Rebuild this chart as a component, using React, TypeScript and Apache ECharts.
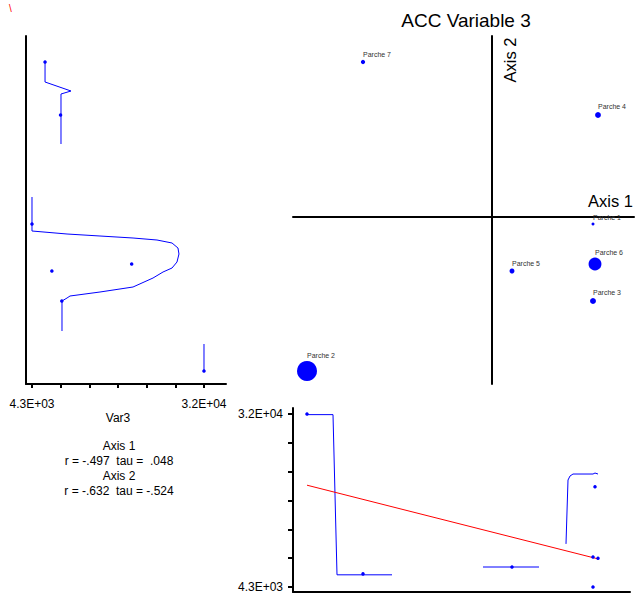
import React, { useEffect, useRef } from 'react';
import * as echarts from 'echarts';

// ---- data ----
const parcheNames = ['Parche 1', 'Parche 2', 'Parche 3', 'Parche 4', 'Parche 5', 'Parche 6', 'Parche 7'];
const axis1Scores = [1.01, -1.85, 1.01, 1.06, 0.2, 1.03, -1.29];
const axis2Scores = [-0.07, -1.54, -0.84, 1.02, -0.54, -0.47, 1.55];
const var3Values = [4300, 32000, 9100, 8900, 7500, 20350, 6400];

const var3Min = 4300;
const var3Max = 32000;
const var3TickValues = [4300, 8917, 13533, 18150, 22767, 27383, 32000];
const var3TickLabels = ['4.3E+03', '3.2E+04'];

// smoother of Var3 (x) against Axis 2 (y), in pieces
const leftSmoothA = [[6400, 1.55], [6400, 1.35], [10580, 1.26], [8970, 1.23], [8970, 0.73]];
const leftSmoothB = [
  [4300, 0.2], [4300, -0.14], [9940, -0.17], [15250, -0.19], [20570, -0.21], [24430, -0.23],
  [26850, -0.26], [27810, -0.31], [27970, -0.37], [27650, -0.45], [26850, -0.51], [25400, -0.55],
  [23790, -0.61], [20570, -0.7], [15250, -0.75], [10420, -0.79], [9940, -0.81], [9130, -0.84], [9130, -1.14],
];
const leftSmoothC = [[32000, -1.27], [32000, -1.54]];

// smoother of Axis 1 (x) against Var3 (y), in pieces
const bottomSmoothA = [[-1.85, 31900], [-1.59, 31900], [-1.55, 6250], [-1.0, 6250]];
const bottomSmoothB = [[-0.09, 7500], [0.47, 7500]];
const bottomSmoothC = [[0.74, 11200], [0.76, 21430], [0.78, 22070], [0.81, 22390], [1.01, 22390], [1.03, 22550], [1.06, 22390]];
const regressionLine = [[-1.85, 20600], [1.06, 8800]];

const stats = ['Axis 1', 'r = -.497  tau =  .048', 'Axis 2', 'r = -.632  tau = -.524'];

const FONT = '"Liberation Sans", Arial, Helvetica, sans-serif';
const BLUE = '#0000ff';

function buildOption() {
  const sizeOf = (v: number) => 3 + ((v - var3Min) / (var3Max - var3Min)) * 17;
  const scatterMain = parcheNames.map((n, i) => ({ name: n, value: [axis1Scores[i], axis2Scores[i], var3Values[i]] }));
  const leftPoints = parcheNames.map((n, i) => [var3Values[i], axis2Scores[i]]);
  const bottomPoints = parcheNames.map((n, i) => [axis1Scores[i], var3Values[i]]);
  const varLabel = (v: number) => (v === var3Min ? var3TickLabels[0] : var3TickLabels[1]);

  const hiddenAxisBits = {
    splitLine: { show: false },
    axisTick: { show: false },
    axisLabel: { show: false },
  };
  const blackLine = { lineStyle: { color: '#000', width: 2 } };

  const line = (data: number[][], xi: number, yi: number, color = BLUE) => ({
    type: 'line',
    xAxisIndex: xi,
    yAxisIndex: yi,
    data,
    showSymbol: false,
    symbol: 'none',
    lineStyle: { color, width: 1 },
    silent: true,
    z: 3,
  });

  return {
    animation: false,
    textStyle: { fontFamily: FONT },
    grid: [
      { left: 26, top: 36, width: 200, height: 348, containLabel: false, outerBoundsMode: 'none' },
      { left: 293, top: 36, width: 341, height: 348, containLabel: false, outerBoundsMode: 'none' },
      { left: 293, top: 408, width: 337, height: 184, containLabel: false, outerBoundsMode: 'none' },
    ],
    xAxis: [
      {
        gridIndex: 0, type: 'value', min: 3334, max: 35543,
        axisLine: { show: true, onZero: false, ...blackLine },
        splitLine: { show: false },
        axisTick: { show: true, customValues: var3TickValues, length: 4, lineStyle: { color: '#000', width: 2 } },
        axisLabel: {
          show: true, customValues: [var3Min, var3Max], formatter: varLabel,
          color: '#000', fontSize: 12, margin: 14, fontFamily: FONT,
        },
      },
      {
        gridIndex: 1, type: 'value', min: -1.99, max: 1.42,
        axisLine: { show: true, onZero: true, ...blackLine },
        ...hiddenAxisBits,
      },
      {
        gridIndex: 2, type: 'value', min: -1.99, max: 1.38,
        axisLine: { show: true, onZero: false, ...blackLine },
        ...hiddenAxisBits,
      },
    ],
    yAxis: [
      {
        gridIndex: 0, type: 'value', min: -1.67, max: 1.81,
        axisLine: { show: true, onZero: false, ...blackLine },
        ...hiddenAxisBits,
      },
      {
        gridIndex: 1, type: 'value', min: -1.67, max: 1.81,
        axisLine: { show: true, onZero: true, ...blackLine },
        ...hiddenAxisBits,
      },
      {
        gridIndex: 2, type: 'value', min: 3499, max: 32961,
        axisLine: { show: true, onZero: false, ...blackLine },
        splitLine: { show: false },
        axisTick: { show: true, customValues: var3TickValues, length: 5, lineStyle: { color: '#000', width: 2 } },
        axisLabel: {
          show: true, customValues: [var3Min, var3Max], formatter: varLabel,
          color: '#000', fontSize: 12, margin: 10, fontFamily: FONT,
        },
      },
    ],
    series: [
      // left panel
      line(leftSmoothA, 0, 0),
      line(leftSmoothB, 0, 0),
      line(leftSmoothC, 0, 0),
      {
        type: 'scatter', xAxisIndex: 0, yAxisIndex: 0, data: leftPoints,
        symbolSize: 3.5, itemStyle: { color: BLUE, opacity: 1 }, z: 4, silent: true,
      },
      // main ordination
      {
        type: 'scatter', xAxisIndex: 1, yAxisIndex: 1, data: scatterMain,
        symbolSize: (v: number[]) => sizeOf(v[2]),
        itemStyle: { color: BLUE, opacity: 1 },
        label: {
          show: true, position: 'top', align: 'left', distance: 2,
          formatter: '{b}', fontSize: 7, color: '#333', fontFamily: FONT,
        },
        z: 4, silent: true,
      },
      // bottom panel
      line(bottomSmoothA, 2, 2),
      line(bottomSmoothB, 2, 2),
      line(bottomSmoothC, 2, 2),
      line(regressionLine, 2, 2, '#ff0000'),
      {
        type: 'scatter', xAxisIndex: 2, yAxisIndex: 2, data: bottomPoints,
        symbolSize: 3.5, itemStyle: { color: BLUE, opacity: 1 }, z: 4, silent: true,
      },
    ],
    graphic: [
      { type: 'text', left: 9, top: 3, style: { text: '\\', fill: '#ff0000', font: `10px ${FONT}` } },
      {
        type: 'text', x: 466, y: 20,
        style: { text: 'ACC Variable 3', fill: '#000', font: `19px ${FONT}`, align: 'center', verticalAlign: 'middle' },
      },
      {
        type: 'text', x: 633, y: 201,
        style: { text: 'Axis 1', fill: '#000', font: `16.5px ${FONT}`, align: 'right', verticalAlign: 'middle' },
      },
      {
        type: 'text', x: 510, y: 60, rotation: Math.PI / 2,
        style: { text: 'Axis 2', fill: '#000', font: `16.5px ${FONT}`, align: 'center', verticalAlign: 'middle' },
      },
      {
        type: 'text', x: 118, y: 418,
        style: { text: 'Var3', fill: '#000', font: `12px ${FONT}`, align: 'center', verticalAlign: 'middle' },
      },
      ...stats.map((s, i) => ({
        type: 'text', x: 119, y: 446 + i * 15,
        style: { text: s, fill: '#000', font: `12px ${FONT}`, align: 'center', verticalAlign: 'middle' },
      })),
    ],
  };
}

export default function App() {
  const ref = useRef<HTMLDivElement>(null);
  useEffect(() => {
    if (!ref.current) return;
    const chart = echarts.init(ref.current, null, { renderer: 'svg' });
    chart.setOption(buildOption() as any);
    return () => chart.dispose();
  }, []);
  return (
    <div
      ref={ref}
      style={{ position: 'fixed', left: 0, top: 0, width: 635, height: 598, background: '#fff' }}
    />
  );
}
